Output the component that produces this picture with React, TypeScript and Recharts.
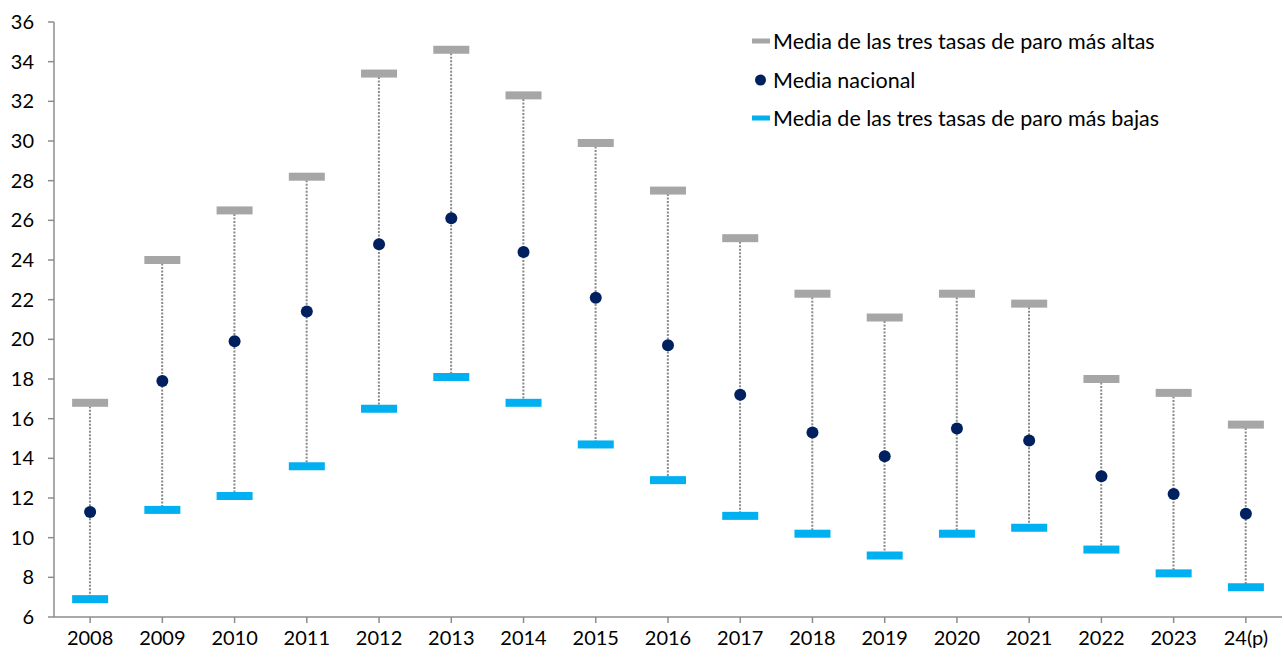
import { ComposedChart, Bar, Line, XAxis, YAxis } from "recharts";

const years = [
  "2008", "2009", "2010", "2011", "2012", "2013", "2014", "2015", "2016",
  "2017", "2018", "2019", "2020", "2021", "2022", "2023", "24(p)",
];
// media de las tres tasas de paro más altas
const highAvg = [16.8, 24.0, 26.5, 28.2, 33.4, 34.6, 32.3, 29.9, 27.5, 25.1, 22.3, 21.1, 22.3, 21.8, 18.0, 17.3, 15.7];
// media nacional
const national = [11.3, 17.9, 19.9, 21.4, 24.8, 26.1, 24.4, 22.1, 19.7, 17.2, 15.3, 14.1, 15.5, 14.9, 13.1, 12.2, 11.2];
// media de las tres tasas de paro más bajas
const lowAvg = [6.9, 11.4, 12.1, 13.6, 16.5, 18.1, 16.8, 14.7, 12.9, 11.1, 10.2, 9.1, 10.2, 10.5, 9.4, 8.2, 7.5];
const yTicks = [6, 8, 10, 12, 14, 16, 18, 20, 22, 24, 26, 28, 30, 32, 34, 36];

const GRAY = "#a6a6a6";
const NAVY = "#002060";
const CYAN = "#00b0f0";
const AXIS = "#8c8c8c";
const FONT = "Lato, 'Noto Sans', sans-serif";

const data = years.map((year, i) => ({
  year,
  high: highAvg[i],
  mean: national[i],
  low: lowAvg[i],
  range: [lowAvg[i], highAvg[i]],
}));

const legendItems = [
  { label: "Media de las tres tasas de paro más altas", kind: "gray" },
  { label: "Media nacional", kind: "dot" },
  { label: "Media de las tres tasas de paro más bajas", kind: "cyan" },
];

function DottedRange(props: any) {
  const { x, y, width, height } = props;
  const cx = x + width / 2;
  return (
    <line
      x1={cx}
      x2={cx}
      y1={y}
      y2={y + height}
      stroke="#8a8a8a"
      strokeWidth={2}
      strokeDasharray="2 1.5"
    />
  );
}

const barMark = (color: string, prefix: string) => (props: any) => (
  <rect
    key={`${prefix}-${props.index}`}
    x={props.cx - 18}
    y={props.cy - 4}
    width={36}
    height={8}
    fill={color}
  />
);

const dotMark = (props: any) => (
  <circle key={`m-${props.index}`} cx={props.cx} cy={props.cy} r={6} fill={NAVY} />
);

function LegendBox() {
  return (
    <div
      style={{
        position: "absolute",
        left: 751,
        top: 22,
        fontFamily: FONT,
        fontSize: 21.5,
        color: "#000",
      }}
    >
      {legendItems.map((item) => (
        <div
          key={item.label}
          style={{ display: "flex", alignItems: "center", height: 38.5, whiteSpace: "nowrap" }}
        >
          <svg width={22} height={12} style={{ marginRight: 0 }}>
            {item.kind === "dot" ? (
              <circle cx={9.5} cy={6} r={5.5} fill={NAVY} />
            ) : (
              <rect x={1} y={3.5} width={18} height={5} fill={item.kind === "gray" ? GRAY : CYAN} />
            )}
          </svg>
          <span>{item.label}</span>
        </div>
      ))}
    </div>
  );
}

export default function App() {
  return (
    <div style={{ position: "relative", width: 1284, height: 658 }}>
      <style>{"body{margin:0}"}</style>
      <ComposedChart
        width={1284}
        height={658}
        data={data}
        margin={{ top: 22, right: 2, bottom: 0, left: 0 }}
        barCategoryGap="20%"
      >
        <XAxis
          dataKey="year"
          height={41}
          axisLine={{ stroke: AXIS, strokeWidth: 1.5 }}
          tickLine={{ stroke: AXIS, strokeWidth: 1.5 }}
          tick={{ fill: "#000", fontSize: 20, fontFamily: FONT }}
          tickMargin={8}
          interval={0}
        />
        <YAxis
          domain={[6, 36]}
          ticks={yTicks}
          width={54}
          axisLine={{ stroke: AXIS, strokeWidth: 1.5 }}
          tickLine={{ stroke: AXIS, strokeWidth: 1.5 }}
          tick={{ fill: "#000", fontSize: 20, fontFamily: FONT }}
          tickMargin={14}
          allowDataOverflow
        />
        <Bar dataKey="range" shape={<DottedRange />} isAnimationActive={false} legendType="none" />
        <Line
          dataKey="high"
          stroke="none"
          dot={barMark(GRAY, "h")}
          activeDot={false}
          isAnimationActive={false}
          legendType="none"
        />
        <Line
          dataKey="low"
          stroke="none"
          dot={barMark(CYAN, "l")}
          activeDot={false}
          isAnimationActive={false}
          legendType="none"
        />
        <Line
          dataKey="mean"
          stroke="none"
          dot={dotMark}
          activeDot={false}
          isAnimationActive={false}
          legendType="none"
        />
      </ComposedChart>
      <LegendBox />
    </div>
  );
}
